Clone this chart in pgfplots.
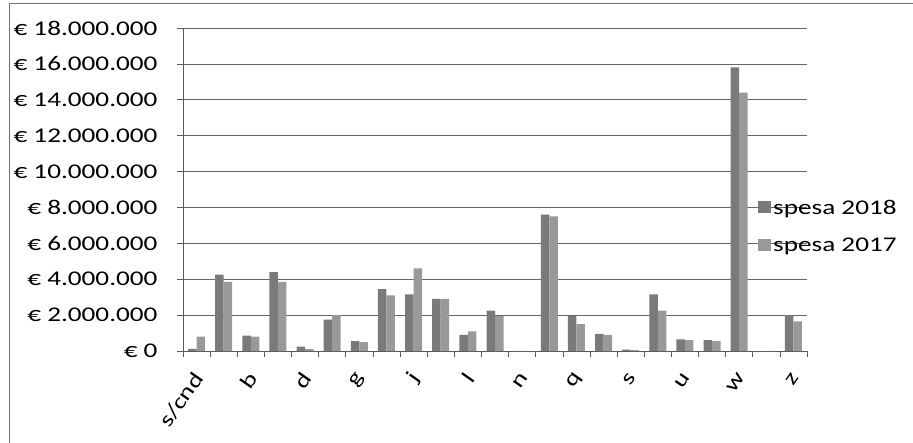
\documentclass[border=0pt]{standalone}
\usepackage{pgfplots}
\pgfplotsset{compat=1.18}
\usepackage{fontspec}
\setmainfont{Carlito}[FakeStretch=1.3]

\pgfplotstableread{
x  y2018 y2017
0  0.12  0.80
1  4.25  3.85
2  0.85  0.80
3  4.40  3.85
4  0.25  0.10
5  1.75  2.00
6  0.55  0.50
7  3.45  3.10
8  3.15  4.60
9  2.90  2.90
10 0.90  1.10
11 2.25  1.95
12 0     0
13 7.60  7.50
14 1.95  1.50
15 0.95  0.90
16 0.08  0.05
17 3.15  2.25
18 0.65  0.60
19 0.60  0.55
20 15.80 14.40
21 0     0
22 2.00  1.65
}\spesa

\begin{document}
\begin{tikzpicture}
\path[use as bounding box] (-183bp,-92bp) rectangle (730bp,351bp);
\draw[black!55, line width=0.6bp] (-174bp,-92bp) -- (-174bp,348bp) -- (730bp,348bp);
\begin{axis}[
  scale only axis, width=624bp, height=323bp,
  at={(0,0)}, anchor=south west,
  xmin=-0.5, xmax=22.5, ymin=0, ymax=18,
  ybar=0pt, bar width=8.5bp,
  axis x line*=bottom, axis y line*=left,
  axis line style={-, black!65, line width=0.6bp},
  tick align=outside,
  major tick length=6bp, minor tick length=6bp,
  tick style={black!65, line width=0.6bp},
  xtick={0,2,...,22},
  xticklabels={s/cnd,b,d,g,j,l,n,q,s,u,w,z},
  major x tick style={draw=none},
  minor xtick={-0.5,0.5,...,22.5},
  ytick={0,2,...,18},
  yticklabels={€ 0,€ 2.000.000,€ 4.000.000,€ 6.000.000,€ 8.000.000,€ 10.000.000,€ 12.000.000,€ 14.000.000,€ 16.000.000,€ 18.000.000},
  ymajorgrids, grid style={black!60, line width=0.6bp},
  ticklabel style={font=\fontsize{21}{25}\selectfont},
  yticklabel style={xshift=-16bp},
  xticklabel style={rotate=55, anchor=east, xshift=-10bp, yshift=-12bp},
  legend style={at={(axis description cs:0.9215,0.384)}, anchor=west, draw=none, fill=none,
    inner sep=0pt, row sep=18bp, font=\fontsize{21}{25}\selectfont, legend cell align=left},
  legend image code/.code={\fill[#1] (0bp,-5bp) rectangle (13bp,7bp);},
]
\addplot[fill=black!52, draw=none] table[x=x, y=y2018] {\spesa};
\addplot[fill=black!40, draw=none] table[x=x, y=y2017] {\spesa};
\legend{spesa 2018, spesa 2017}
\end{axis}
\end{tikzpicture}
\end{document}
